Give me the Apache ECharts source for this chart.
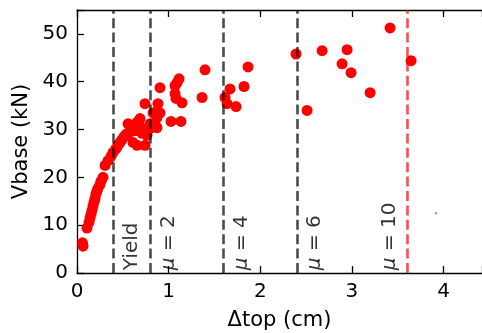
<!DOCTYPE html>
<html>
<head>
<meta charset="utf-8">
<script src="https://cdn.jsdelivr.net/npm/echarts/dist/echarts.min.js"></script>
<style>
html,body{margin:0;padding:0;background:#fff;}
#chart{width:482px;height:333px;}
</style>
</head>
<body>
<div id="chart"></div>
<script>
// Δtop (cm) values of the test points
const dispTop = [0.066, 0.060, 0.109, 0.131, 0.142, 0.153, 0.164, 0.175, 0.186, 0.197, 0.207, 0.218, 0.229, 0.251, 0.262, 0.284,
  0.306, 0.338, 0.371, 0.393, 0.426, 0.448, 0.469, 0.491, 0.513, 0.535, 0.557, 0.590, 0.611, 0.644, 0.666, 0.688,
  0.655, 0.710, 0.742, 0.764, 0.611, 0.557, 0.655, 0.688, 0.797, 0.797, 0.830, 0.852, 0.873, 0.873, 0.884, 0.742, 0.906,
  0.906, 1.070, 1.092, 1.114, 1.070, 1.081, 1.146, 1.026, 1.135,
  1.397, 1.365, 1.616, 1.670, 1.638, 1.736, 1.823, 1.867,
  2.391, 2.511, 2.675, 2.948, 2.893, 2.991, 3.199, 3.417, 3.646];
// Vbase (kN) values of the test points
const vBase = [5.6, 6.3, 9.4, 10.6, 11.5, 12.3, 13.1, 14.0, 14.8, 15.6, 16.5, 17.1, 17.7, 18.5, 19.2, 20.0,
  22.5, 23.5, 24.4, 25.2, 26.0, 26.7, 27.3, 27.9, 28.5, 29.0, 29.2, 29.6, 30.2, 29.8, 30.2, 30.6,
  26.7, 29.2, 26.7, 28.8, 27.3, 31.2, 31.5, 32.3, 30.2, 31.2, 33.5, 31.2, 32.5, 30.4, 35.4, 35.4, 33.5,
  38.75, 39.2, 39.8, 40.6, 37.5, 36.5, 35.6, 31.7, 31.7,
  42.5, 36.7, 36.7, 38.5, 35.4, 34.8, 39.0, 43.1,
  45.8, 34.0, 46.5, 46.7, 43.75, 41.9, 37.7, 51.25, 44.4];
// faint stray point
const strayPoint = [[3.92, 12.5]];
// ductility marker lines
const markerX = [0.4, 0.8, 1.6, 2.4];
const markerLabels = ['Yield', '{m|μ} = 2', '{m|μ} = 4', '{m|μ} = 6'];
const limitX = 3.6;
const limitLabel = '{m|μ} = 10';
const xTicks = [0, 1, 2, 3, 4];
const yTicks = [0, 10, 20, 30, 40, 50];

const FONT = 'DejaVu Sans';
const points = dispTop.map((x, i) => [x, vBase[i]]);
const labelData = markerX.map((x, i) => [x + 0.2, 0.6, markerLabels[i]]);
labelData.push([limitX - 0.19, 0.6, limitLabel]);

const chart = echarts.init(document.getElementById('chart'), null, {renderer: 'canvas'});
const axisCommon = {
  axisLine: {show: true, onZero: false, lineStyle: {color: '#000', width: 1.3}},
  axisTick: {show: true, inside: true, length: 7, lineStyle: {color: '#000', width: 1.3}},
  splitLine: {show: false}
};
chart.setOption({
  animation: false,
  backgroundColor: '#fff',
  grid: {left: 77, right: 0, top: 10, bottom: 60, containLabel: false, outerBoundsMode: 'none'},
  xAxis: [Object.assign({
    type: 'value', min: 0, max: 4.42, interval: 1, position: 'bottom',
    name: 'Δtop (cm)', nameLocation: 'middle', nameGap: 37,
    nameTextStyle: {fontFamily: FONT, fontSize: 21, color: '#000'},
    axisLabel: {fontFamily: FONT, fontSize: 20, color: '#000', margin: 9,
      formatter: v => xTicks.includes(v) ? String(v) : ''}
  }, axisCommon), Object.assign({
    type: 'value', min: 0, max: 4.42, interval: 1, position: 'top',
    axisLabel: {show: false}
  }, axisCommon)],
  yAxis: [Object.assign({
    type: 'value', min: 0, max: 55, interval: 10,
    name: 'Vbase (kN)', nameLocation: 'middle', nameGap: 37,
    nameTextStyle: {fontFamily: FONT, fontSize: 21, color: '#000'},
    axisLabel: {fontFamily: FONT, fontSize: 20, color: '#000', margin: 9,
      formatter: v => yTicks.includes(v) ? String(v) : ''}
  }, axisCommon)],
  series: [
    {
      type: 'scatter', data: points, symbol: 'circle', symbolSize: 11,
      itemStyle: {color: '#ff0000', opacity: 1}, z: 2
    },
    {
      type: 'scatter', data: strayPoint, symbol: 'rect', symbolSize: 2,
      itemStyle: {color: '#777'}, z: 2
    },
    {
      type: 'scatter', data: labelData, symbolSize: 0, z: 4,
      label: {
        show: true, position: 'inside', rotate: 90, align: 'left', verticalAlign: 'middle',
        fontFamily: FONT, fontSize: 20, color: '#000',
        formatter: p => p.data[2],
        rich: {m: {fontFamily: FONT, fontSize: 20, fontStyle: 'italic', color: '#000'}}
      },
      markLine: {
        silent: true, symbol: 'none', animation: false,
        label: {show: false},
        data: markerX.map(x => ({xAxis: x, lineStyle: {color: 'rgba(0,0,0,0.7)', width: 2.6, type: [10, 4.4]}}))
          .concat([{xAxis: limitX, lineStyle: {color: 'rgba(255,0,0,0.7)', width: 2.6, type: [10, 4.4]}}])
      }
    }
  ]
});
</script>
</body>
</html>
